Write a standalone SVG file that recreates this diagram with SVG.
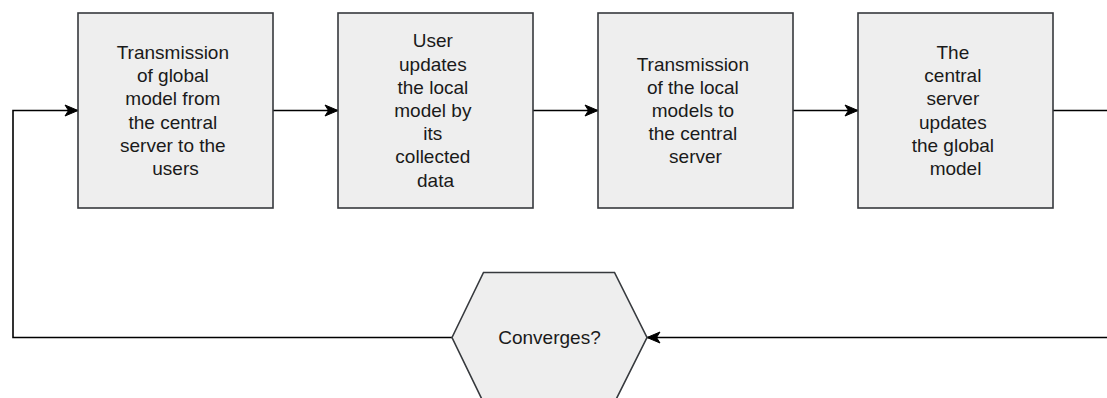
<svg xmlns="http://www.w3.org/2000/svg" width="1107" height="398" viewBox="0 0 1107 398">
  <style>
    .box { fill: #eeeeee; stroke: #36393d; stroke-width: 1.6; }
    .lbl { font-family: "Liberation Sans", Arial, sans-serif; font-size: 19px; fill: #1a1a1a; text-anchor: middle; }
    .wire { fill: none; stroke: #000000; stroke-width: 1.6; }
  </style>
  <defs>
    <marker id="arrow" markerUnits="userSpaceOnUse" markerWidth="16" markerHeight="14" refX="14" refY="6" orient="auto" overflow="visible">
      <path d="M14,6 L1,0.5 L4.5,6 L1,11.5 Z" fill="#000000" stroke="#000000" stroke-width="1"/>
    </marker>
  </defs>

  <rect width="1107" height="398" fill="#ffffff"/>

  <!-- connectors -->
  <g id="connectors">
    <path class="wire" d="M273,110.5 H338" marker-end="url(#arrow)"/>
    <path class="wire" d="M533,110.5 H598" marker-end="url(#arrow)"/>
    <path class="wire" d="M793,110.5 H858" marker-end="url(#arrow)"/>
    <path class="wire" d="M1053,110.5 H1115 V337.5 H647" marker-end="url(#arrow)"/>
    <path class="wire" d="M452,337.5 H13 V110.5 H78" marker-end="url(#arrow)"/>
  </g>

  <!-- step 1 -->
  <g id="transmit-global">
    <rect class="box" x="78" y="13" width="195" height="195"/>
    <text class="lbl">
      <tspan x="175.5" y="59">Transmission</tspan>
      <tspan x="175.5" y="82.2">of global</tspan>
      <tspan x="175.5" y="105.4">model from</tspan>
      <tspan x="175.5" y="128.6">the central</tspan>
      <tspan x="175.5" y="151.8">server to the</tspan>
      <tspan x="175.5" y="175">users</tspan>
    </text>
  </g>

  <!-- step 2 -->
  <g id="local-update">
    <rect class="box" x="338" y="13" width="195" height="195"/>
    <text class="lbl">
      <tspan x="435.5" y="47.4">User</tspan>
      <tspan x="435.5" y="70.6">updates</tspan>
      <tspan x="435.5" y="93.8">the local</tspan>
      <tspan x="435.5" y="117">model by</tspan>
      <tspan x="435.5" y="140.2">its</tspan>
      <tspan x="435.5" y="163.4">collected</tspan>
      <tspan x="435.5" y="186.6">data</tspan>
    </text>
  </g>

  <!-- step 3 -->
  <g id="transmit-local">
    <rect class="box" x="598" y="13" width="195" height="195"/>
    <text class="lbl">
      <tspan x="695.5" y="70.6">Transmission</tspan>
      <tspan x="695.5" y="93.8">of the local</tspan>
      <tspan x="695.5" y="117">models to</tspan>
      <tspan x="695.5" y="140.2">the central</tspan>
      <tspan x="695.5" y="163.4">server</tspan>
    </text>
  </g>

  <!-- step 4 -->
  <g id="global-update">
    <rect class="box" x="858" y="13" width="195" height="195"/>
    <text class="lbl">
      <tspan x="955.5" y="59">The</tspan>
      <tspan x="955.5" y="82.2">central</tspan>
      <tspan x="955.5" y="105.4">server</tspan>
      <tspan x="955.5" y="128.6">updates</tspan>
      <tspan x="955.5" y="151.8">the global</tspan>
      <tspan x="955.5" y="175">model</tspan>
    </text>
  </g>

  <!-- decision -->
  <g id="converges">
    <polygon class="box" points="452,337.5 483.5,272.5 614.5,272.5 647,337.5 614.5,402.5 483.5,402.5"/>
    <text class="lbl" x="549.5" y="344.3">Converges?</text>
  </g>
</svg>
